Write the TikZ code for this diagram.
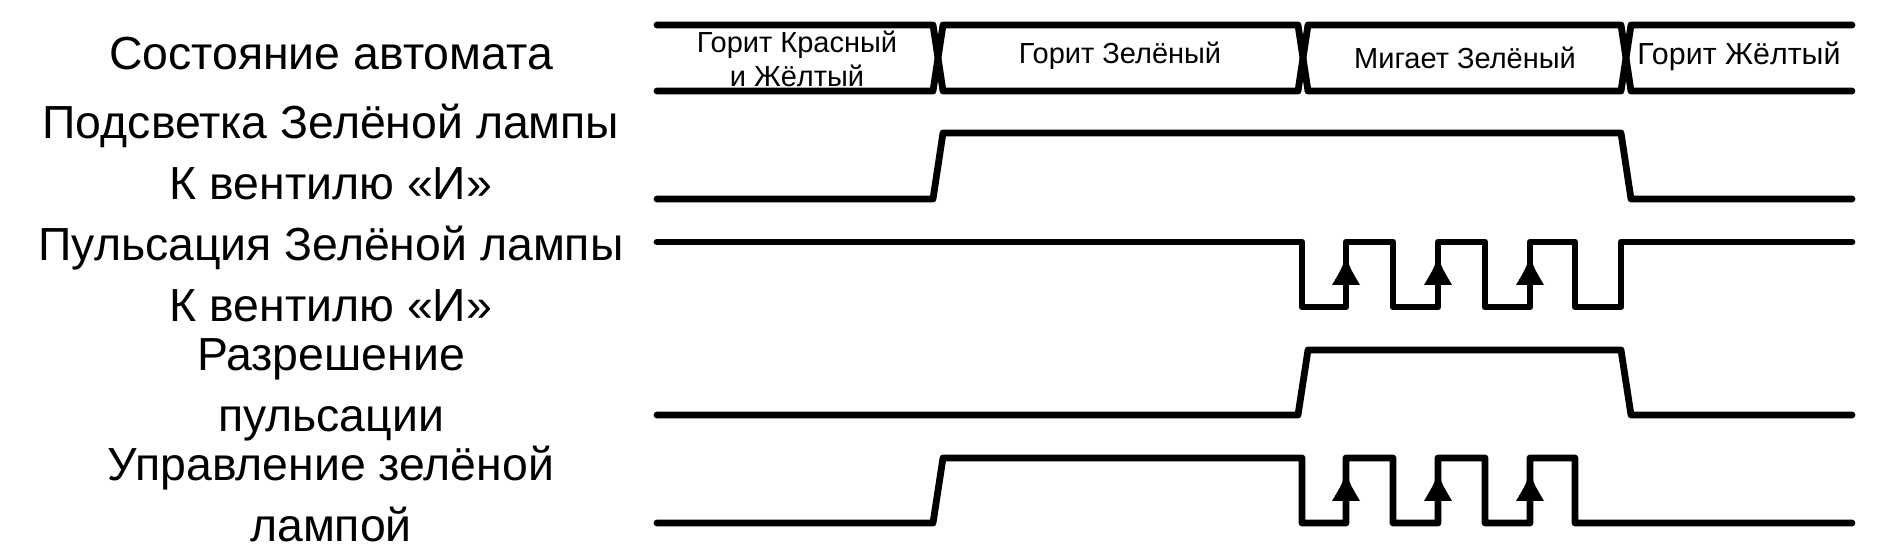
\documentclass[tikz,border=0pt]{standalone}
\usepackage{fontspec}
\setmainfont{Liberation Sans}
\tikzset{
  wave/.style={line width=3.4pt, line cap=round, line join=round},
  lbl/.style={align=center, inner sep=0pt, font=\fontsize{23.2}{30.5}\selectfont},
  buslbl/.style={align=center, inner sep=0pt, font=\fontsize{14.5}{17}\selectfont},
  upmark/.style={fill=black},
}
\begin{document}
\begin{tikzpicture}[x=0.5pt,y=-0.5pt]
\useasboundingbox (0,0) rectangle (1886,560);
% bus
\coordinate (b0t) at (657,25); \coordinate (b0b) at (657,91);
\coordinate (x1) at (938,58); \coordinate (x2) at (1303,58); \coordinate (x3) at (1626,58);
\coordinate (b4t) at (1852,25); \coordinate (b4b) at (1852,91);
\draw[wave] (b0t) -- (933,25) -- (x1) -- (933,91) -- (b0b);
\draw[wave] (x1) -- (943,25) -- (1298,25) -- (x2) -- (1298,91) -- (943,91) -- cycle;
\draw[wave] (x2) -- (1308,25) -- (1621,25) -- (x3) -- (1621,91) -- (1308,91) -- cycle;
\draw[wave] (b4t) -- (1631,25) -- (x3) -- (1631,91) -- (b4b);
\node[buslbl] (s1) at (797,59) {Горит Красный\\и Жёлтый};
\node[buslbl] (s2) at (1120,56) {Горит Зелёный};
\node[buslbl] (s3) at (1465,58) {Мигает Зелёный};
\node[buslbl, font=\fontsize{15.2}{17}\selectfont] (s4) at (1739,56) {Горит Жёлтый};
% signal 2
\draw[wave] (657,199) -- (933,199) -- (943,133) -- (1621,133) -- (1631,199) -- (1852,199);
% signal 3
\draw[wave] (657,242) -- (1302,242) -- (1302,307) -- (1346,307) -- (1346,242) -- (1393,242) -- (1393,307) -- (1438,307) -- (1438,242) -- (1485,242) -- (1485,307) -- (1530,307) -- (1530,242) -- (1575,242) -- (1575,307) -- (1621,307) -- (1621,242) -- (1852,242);
% signal 4
\draw[wave] (657,415) -- (1298,415) -- (1308,350) -- (1621,350) -- (1631,415) -- (1852,415);
% signal 5
\draw[wave] (657,523) -- (933,523) -- (943,458) -- (1302,458) -- (1302,523) -- (1346,523) -- (1346,458) -- (1393,458) -- (1393,523) -- (1438,523) -- (1438,458) -- (1485,458) -- (1485,523) -- (1530,523) -- (1530,458) -- (1575,458) -- (1575,523) -- (1852,523);
% edge marks
\foreach \x in {1346,1438,1530}{
  \fill[upmark] (\x,256) .. controls ({\x-4},268) .. ({\x-14},285) -- ({\x+14},285) .. controls ({\x+4},268) .. (\x,256);
  \fill[upmark] (\x,472) .. controls ({\x-4},484) .. ({\x-14},501) -- ({\x+14},501) .. controls ({\x+4},484) .. (\x,472);
}
% labels
\node[lbl] (l1) at (331,54) {Состояние автомата};
\node[lbl] (l2) at (331,152) {Подсветка Зелёной лампы\\К вентилю «И»};
\node[lbl] (l3) at (331,274.5) {Пульсация Зелёной лампы\\К вентилю «И»};
\node[lbl] (l4) at (331,390) {Разрешение\\пульсации};
\node[lbl] (l5) at (331,494) {Управление зелёной\\лампой};
\end{tikzpicture}
\end{document}
